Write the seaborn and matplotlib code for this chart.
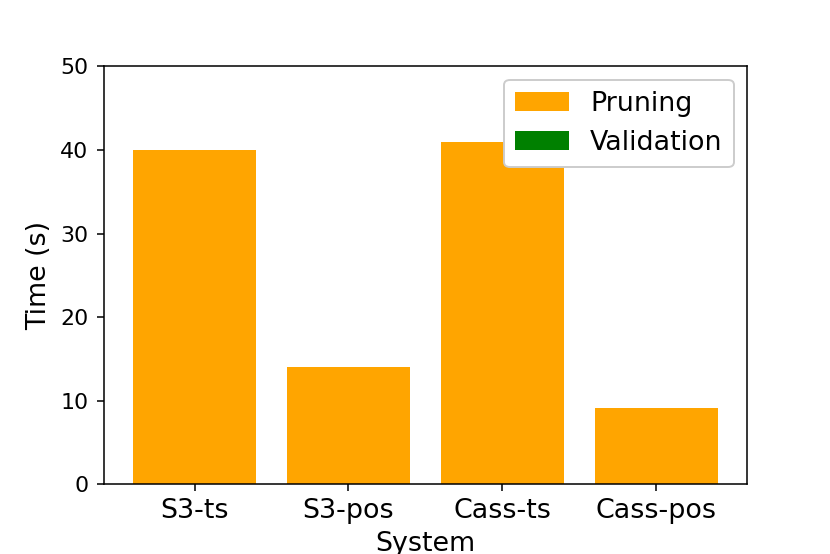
import seaborn as sns
import matplotlib.pyplot as plt
import numpy as np

systems = ["S3-ts", "S3-pos", "Cass-ts", "Cass-pos"]
pruning_time = [40.0, 14.0, 41.0, 9.1]
validation_time = [0.0, 0.0, 0.0, 0.0]

plt.rcParams["font.size"] = 14

fig, ax = plt.subplots(figsize=(830 / 138.4, 554 / 138.4), dpi=138.4)
fig.subplots_adjust(left=0.125, right=0.9, top=0.88, bottom=0.126)

sns.barplot(x=systems, y=pruning_time, color="orange", saturation=1,
            label="Pruning", ax=ax)
sns.barplot(x=systems, y=validation_time, color="green", saturation=1,
            bottom=np.array(pruning_time), label="Validation", ax=ax)

# same padding as plain plt.bar
ax.set_xlim(-0.59, len(systems) - 1 + 0.59)
ax.set_ylim(0, 50)
ax.tick_params(axis="y", labelsize=11.5, pad=4.5)
ax.set_xlabel("System")
ax.set_ylabel("Time (s)")
ax.legend(loc="upper right", framealpha=1)

fig.savefig("out.png", dpi=138.4)
